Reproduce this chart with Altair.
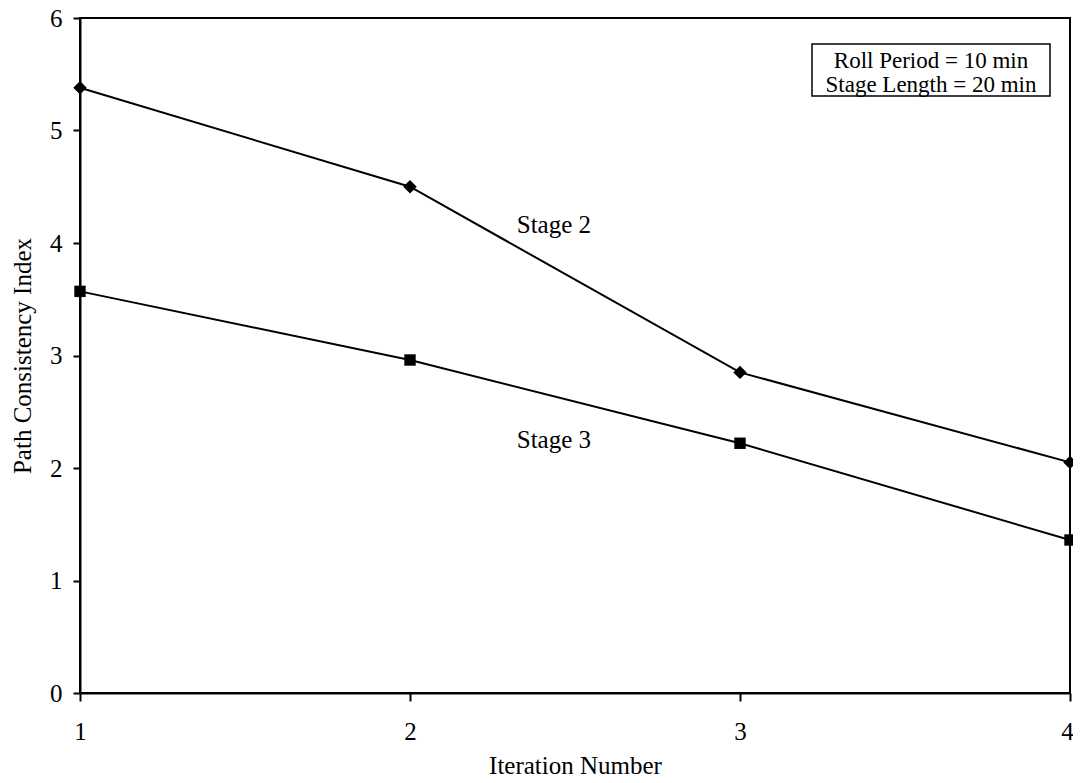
import altair as alt
import pandas as pd

iterations = [1, 2, 3, 4]
stage2 = [5.38, 4.50, 2.85, 2.05]
stage3 = [3.57, 2.96, 2.22, 1.36]
series_names = ["Stage 2", "Stage 3"]
legend_lines = ["Roll Period = 10 min", "Stage Length = 20 min"]
y_ticks = [0, 1, 2, 3, 4, 5, 6]

rows = []
for name, vals in zip(series_names, [stage2, stage3]):
    for it, v in zip(iterations, vals):
        rows.append({"Iteration": it, "Value": v, "Stage": name})
df = pd.DataFrame(rows)

labels_df = pd.DataFrame({
    "Iteration": [2.436, 2.436],
    "Value": [4.09, 2.18],
    "label": series_names,
})

FONT = "Liberation Serif"

xscale = alt.Scale(domain=[1, 4], nice=False, zero=False)
yscale = alt.Scale(domain=[0, 6], nice=False)

base = alt.Chart(df)

lines = base.mark_line(color="black", strokeWidth=2).encode(
    x=alt.X("Iteration:Q", scale=xscale,
            axis=alt.Axis(title="Iteration Number", values=iterations, format="d",
                          tickSize=8, labelPadding=18, labelFlush=False,
                          labelOffset={"condition": {"test": "datum.value == 4", "value": -3},
                                       "value": 0},
                          titleBaseline="alphabetic", titleY=80)),
    y=alt.Y("Value:Q", scale=yscale,
            axis=alt.Axis(title="Path Consistency Index", values=y_ticks, format="d",
                          tickSize=7, labelPadding=11, labelFlush=False,
                          titleBaseline="alphabetic", titleX=-50)),
    detail="Stage:N",
)

points = base.mark_point(filled=True, color="black", opacity=1, strokeWidth=0).encode(
    x=alt.X("Iteration:Q", scale=xscale),
    y=alt.Y("Value:Q", scale=yscale),
    shape=alt.Shape("Stage:N", scale=alt.Scale(domain=series_names, range=["diamond", "square"]),
                    legend=None),
    size=alt.Size("Stage:N", scale=alt.Scale(domain=series_names, range=[180, 130]), legend=None),
)

stage_labels = alt.Chart(labels_df).mark_text(
    font=FONT, fontSize=25, color="black", align="center", baseline="alphabetic"
).encode(
    x=alt.X("Iteration:Q", scale=xscale),
    y=alt.Y("Value:Q", scale=yscale),
    text="label:N",
)

box = alt.Chart(pd.DataFrame({"a": [0]})).mark_rect(
    fill="white", stroke="black", strokeWidth=1.5
).encode(
    x=alt.value(732), x2=alt.value(970), y=alt.value(26), y2=alt.value(78)
)

box_text1 = alt.Chart(pd.DataFrame({"t": [legend_lines[0]]})).mark_text(
    font=FONT, fontSize=23, color="black", align="center", baseline="alphabetic"
).encode(x=alt.value(851), y=alt.value(50), text="t:N")

box_text2 = alt.Chart(pd.DataFrame({"t": [legend_lines[1]]})).mark_text(
    font=FONT, fontSize=23, color="black", align="center", baseline="alphabetic"
).encode(x=alt.value(851), y=alt.value(74), text="t:N")

chart = alt.layer(lines, points, stage_labels, box, box_text1, box_text2).properties(
    width=990, height=675,
    autosize=alt.AutoSizeParams(type="none"),
    padding={"left": 72, "top": 10, "right": 3, "bottom": 92},
).configure_view(
    stroke="black", strokeWidth=2
).configure_axis(
    grid=False, domainColor="black", domainWidth=2, tickColor="black", tickWidth=2,
    labelFont=FONT, labelFontSize=25, labelColor="black",
    titleFont=FONT, titleFontSize=25, titleColor="black", titleFontWeight="normal",
)

chart.save("out.html", embed_options={"renderer": "svg", "actions": False})
